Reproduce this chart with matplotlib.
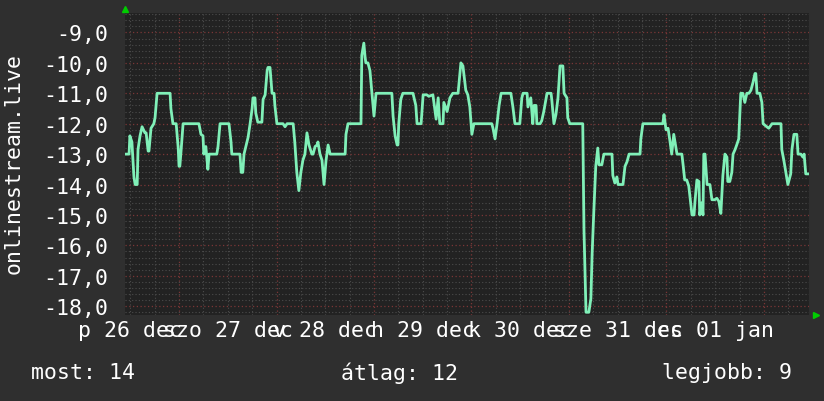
import numpy as np
import matplotlib.pyplot as plt
from matplotlib.ticker import MultipleLocator

# time in hours since 26 dec 00:00
hours = [10.7, 11.7, 11.9, 12.4, 12.9, 13.2, 13.7, 13.9, 14.4, 14.9, 15.6, 15.9, 16.4, 16.6,
         17.1, 17.8, 18.1, 18.6, 21.8, 22.0, 22.5, 23.3, 23.8, 24.0, 24.2, 24.5, 25.0, 28.9,
         29.4, 29.9, 30.1, 30.6, 31.1, 31.4, 33.3, 33.6, 34.1, 36.3, 36.8, 37.0, 39.0, 39.3,
         39.7, 40.0, 41.0, 41.5, 42.0, 42.2, 42.7, 42.9, 43.4, 44.4, 44.7, 45.2, 45.7, 45.9,
         46.4, 46.9, 47.4, 47.6, 48.1, 49.6, 50.1, 50.6, 52.1, 52.5, 53.0, 53.5, 54.0, 54.5,
         55.0, 55.5, 56.0, 56.7, 57.0, 57.5, 58.0, 58.2, 58.7, 59.2, 59.7, 60.2, 60.7, 61.2,
         64.9, 65.1, 65.6, 68.8, 69.0, 69.5, 69.8, 70.0, 70.5, 71.0, 71.5, 72.0, 72.5, 76.4,
         76.7, 77.2, 77.7, 77.9, 78.1, 78.6, 79.1, 81.6, 82.3, 82.6, 83.6, 84.1, 85.0, 85.5,
         86.5, 87.3, 87.8, 88.2, 89.0, 89.2, 90.0, 90.7, 91.4, 92.7, 93.4, 93.9, 94.6, 95.1,
         95.6, 96.1, 96.6, 101.0, 101.3, 101.8, 102.3, 102.8, 103.3, 105.7, 106.2, 106.7,
         107.9, 108.4, 108.7, 109.7, 109.9, 110.6, 111.1, 111.4, 111.9, 112.1, 112.9, 113.3,
         113.8, 114.6, 115.6, 115.8, 116.3, 116.8, 117.3, 117.8, 118.5, 118.8, 119.5, 119.7,
         120.2, 123.4, 123.7, 124.2, 124.9, 125.4, 125.7, 126.1, 126.6, 127.1, 127.4, 128.1,
         128.6, 130.6, 130.8, 131.3, 131.8, 132.1, 133.3, 133.8, 134.3, 134.8, 137.5, 137.7,
         138.2, 143.1, 143.4, 143.9, 144.4, 144.9, 145.3, 145.8, 146.6, 147.8, 148.1, 148.5,
         149.0, 149.5, 150.3, 150.8, 151.0, 151.5, 152.0, 152.2, 152.7, 153.0, 153.2, 153.5,
         154.0, 154.7, 155.2, 155.9, 156.4, 156.9, 157.4, 157.9, 158.4, 158.9, 159.1, 159.6,
         160.1, 160.4, 160.9, 161.3, 161.8, 162.3, 162.8, 163.3, 163.8, 164.3, 164.8, 165.3,
         165.8, 166.0, 166.3, 167.0, 167.5, 167.8, 168.7, 169.2, 170.0, 172.2, 172.4, 172.9,
         173.9, 174.6, 174.9, 175.4, 176.1, 176.4, 177.1, 177.6, 177.9, 178.3, 178.8]
values = [-13, -13, -12.4, -12.6, -13.75, -14, -14, -12.85, -12.4, -12.1, -12.3, -12.3, -12.9, -12.9,
          -12.15, -12, -11.8, -11, -11, -11.5, -12, -12, -12.8, -13.4, -13.4, -12.9, -12, -12,
          -12.35, -12.4, -13, -12.75, -13.5, -13, -13, -12.75, -12, -12, -12.6, -13, -13, -13.6,
          -13.6, -13, -12.45, -12, -11.5, -11.15, -11.15, -11.65, -11.95, -11.95, -11.2, -11.05, -10.25, -10.15,
          -10.15, -11, -11, -11.4, -12, -12, -12.1, -12, -12, -12.6, -13.6, -14.2, -13.6, -13.2,
          -13, -12.3, -12.7, -13, -13, -12.75, -12.7, -12.6, -13, -13.2, -14, -13.2, -12.7, -13,
          -13, -12.35, -12, -12, -9.75, -9.35, -9.8, -10, -10, -10.25, -11, -11.75, -11, -11,
          -11.75, -12.4, -12.7, -12.7, -12, -11.2, -11, -11, -11.4, -12, -12, -11.05, -11.05, -11.1,
          -11.05, -11.85, -11.15, -12, -12, -11.3, -11.6, -11.15, -11, -11, -10, -10.1, -10.9, -11.05,
          -11.45, -12.35, -12, -12, -12.15, -12.5, -12, -11.4, -11, -11, -11.45, -12,
          -12, -11.15, -11, -11, -11.45, -11.15, -12, -11.4, -11.4, -12, -12, -11.9,
          -11.6, -11, -11, -11.25, -12, -11.7, -11.15, -10.1, -10.1, -11, -11.15, -11.8,
          -12, -12, -15.5, -18.2, -18.2, -17.75, -16.3, -14.95, -13.4, -12.8, -13.35, -13.35,
          -13, -13, -13.7, -13.95, -13.75, -14, -14, -13.4, -13.25, -13, -13, -12.5,
          -12, -12, -11.7, -12.2, -12.15, -12.6, -13, -12.35, -13, -13, -13.35, -13.85,
          -13.85, -14.05, -15, -15, -14.6, -13.85, -13.9, -15, -14.6, -15, -13, -13,
          -14, -14, -14.5, -14.5, -14.45, -14.55, -14.95, -13.7, -13, -13.1, -13.9, -13.9,
          -13.6, -13, -12.85, -12.7, -12.5, -11, -11, -11.3, -11, -11, -10.9, -10.65,
          -10.35, -10.35, -11, -11, -11.3, -12, -12.1, -12.15, -12, -12, -12.85, -13.2,
          -14, -13.65, -12.85, -12.35, -12.35, -13, -13, -13.1, -13, -13.65, -13.65]

day_labels = ["p 26 dec", "szo 27 dec", "v 28 dec", "h 29 dec", "k 30 dec", "sze 31 dec", "cs 01 jan"]
y_ticks = list(range(-18, -8))
stat_names = ["most", "átlag", "legjobb"]
stat_values = [14, 12, 9]
series_name = "onlinestream.live"

mono = "DejaVu Sans Mono"
fs = 15.5
txt = "#ffffff"

fig = plt.figure(figsize=(8.24, 4.02), dpi=100, facecolor="#2f2f2f")
ax = fig.add_axes([125 / 824, 86 / 402, 684 / 824, 302 / 402], facecolor="#222222")

ax.plot(hours, values, color="#80f0b8", lw=2, zorder=5)

ax.set_xlim(10.7, 179.1)
ax.set_ylim(-18.29, -8.36)

# grid: gray minor, red major, both dotted
ax.set_xticks(np.arange(24, 179, 24))
ax.xaxis.set_minor_locator(MultipleLocator(6))
ax.set_yticks(y_ticks)
ax.yaxis.set_minor_locator(MultipleLocator(0.2))
ax.grid(which="minor", color="#4c4c4c", ls=(0, (1, 2)), lw=0.8)
ax.grid(which="major", color="#7a3636", ls=(0, (1, 2)), lw=0.9)
ax.set_axisbelow(True)

ax.set_xticklabels([])
ax.set_yticklabels(["%d,0" % v for v in y_ticks], family=mono, fontsize=fs, color=txt)
ax.tick_params(which="both", length=0)
ax.tick_params(axis="y", pad=12)
for s in ax.spines.values():
    s.set_visible(False)

# day labels centred at noon
for i, lab in enumerate(day_labels):
    ax.text(12 + 24 * i, -0.05, lab, transform=ax.get_xaxis_transform(),
            ha="center", va="center", family=mono, fontsize=fs, color=txt)

fig.text(14 / 824, 1 - 163 / 402, series_name, rotation=90, ha="center", va="center",
         family=mono, fontsize=fs, color=txt)

fig.text(31 / 824, 1 - 373 / 402, "%s: %d" % (stat_names[0], stat_values[0]),
         ha="left", va="center", family=mono, fontsize=fs, color=txt)
fig.text(341 / 824, 1 - 373 / 402, "%s: %d" % (stat_names[1], stat_values[1]),
         ha="left", va="center", family=mono, fontsize=fs, color=txt)
fig.text(792 / 824, 1 - 373 / 402, "%s: %d" % (stat_names[2], stat_values[2]),
         ha="right", va="center", family=mono, fontsize=fs, color=txt)

# little green arrows at the axis ends
fig.lines.append(plt.Line2D([125 / 824], [1 - 10 / 402], marker="^", ms=5, color="#00cc00",
                            transform=fig.transFigure))
fig.lines.append(plt.Line2D([816 / 824], [1 - 316 / 402], marker=">", ms=5, color="#00cc00",
                            transform=fig.transFigure))

fig.savefig("out.png", dpi=100, facecolor=fig.get_facecolor())
